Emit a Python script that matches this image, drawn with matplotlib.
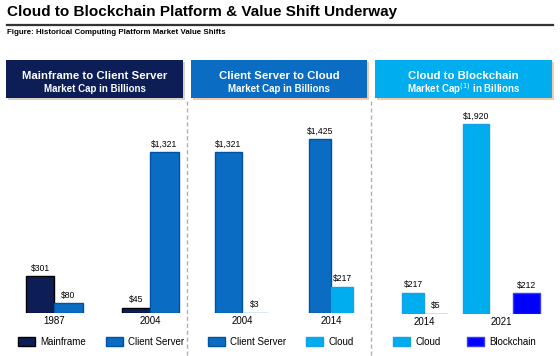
import matplotlib
matplotlib.use("Agg")
import matplotlib.pyplot as plt
from matplotlib.patches import Rectangle
from matplotlib.lines import Line2D

plt.rcParams['font.family'] = ['Liberation Sans', 'DejaVu Sans']

# data
years1 = ['1987', '2004']
mainframe = [301, 45]
client_server1 = [80, 1321]

years2 = ['2004', '2014']
client_server2 = [1321, 1425]
cloud2 = [3, 217]

years3 = ['2014', '2021']
cloud3 = [217, 1920]
blockchain = [5, 212]

headers = [('Mainframe to Client Server', 'Market Cap in Billions'),
           ('Client Server to Cloud', 'Market Cap in Billions'),
           ('Cloud to Blockchain', 'Market Cap$^{(1)}$ in Billions')]

# colours
NAVY = '#0c1e55'
BLUE = '#0a6cc2'
SKY = '#00aeef'
BCHAIN = '#0000ff'

W, H = 560, 356
fig = plt.figure(figsize=(W / 100, H / 100), dpi=100)


def fx(px):
    return px / W


def fy(py):
    return 1 - py / H


# title + rule + subtitle
fig.text(fx(7), fy(12), 'Cloud to Blockchain Platform & Value Shift Underway',
         fontsize=11, fontweight='bold', va='center', ha='left')
fig.add_artist(Line2D([fx(7), fx(553)], [fy(24.5), fy(24.5)], color='#333333', lw=1.6))
fig.text(fx(7), fy(33), 'Figure: Historical Computing Platform Market Value Shifts',
         fontsize=5.7, fontweight='bold', va='center', ha='left')

# header boxes
boxes = [(6, 183, NAVY, '#d8d3c6'), (191, 367, BLUE, '#f3c9ad'), (375, 552, SKY, '#f3c9ad')]
for (x0, x1, col, shadow), (l1, l2) in zip(boxes, headers):
    fig.add_artist(Rectangle((fx(x0 + 2), fy(100)), (x1 - x0) / W, 38 / H,
                             transform=fig.transFigure, facecolor=shadow, edgecolor='none'))
    fig.add_artist(Rectangle((fx(x0), fy(98)), (x1 - x0) / W, 38 / H,
                             transform=fig.transFigure, facecolor=col, edgecolor='none'))
    cx = fx((x0 + x1) / 2)
    fig.text(cx, fy(76), l1, color='white', fontsize=8.2, fontweight='bold', ha='center', va='center')
    fig.text(cx, fy(89), l2, color='white', fontsize=7, fontweight='bold', ha='center', va='center')

# dashed separators
for xs in (187, 371):
    fig.add_artist(Line2D([fx(xs), fx(xs)], [fy(101), fy(356)], color='#b0b0b0',
                          lw=1, linestyle=(0, (3, 2))))


def panel(x0, x1, base, ymax, years, ticks, s1, s2, lefts1, w1, lefts2, w2, styles):
    ax = fig.add_axes([fx(x0), fy(base), (x1 - x0) / W, (base - 110) / H])
    (c1, e1, n1), (c2, e2, n2) = styles
    b1 = ax.bar(lefts1, s1, width=w1, align='edge', color=c1, edgecolor=e1, lw=1.0, label=n1)
    b2 = ax.bar(lefts2, s2, width=w2, align='edge', color=c2, edgecolor=e2, lw=1.0, label=n2)
    for b in (b1, b2):
        ax.bar_label(b, fmt='${:,.0f}', fontsize=6.2, padding=2.5)
    ax.set_xlim(x0, x1)
    ax.set_ylim(0, ymax)
    ax.set_xticks(ticks, years, fontsize=7)
    ax.tick_params(axis='x', length=0, pad=2)
    ax.set_yticks([])
    for sp in ax.spines.values():
        sp.set_visible(False)
    ax.patch.set_alpha(0)
    return ax, b1, b2


ax1, a, b = panel(6, 183, 313, 1664, years1, [54, 150], mainframe, client_server1,
                  [26, 122], 28, [54, 150], 28.5,
                  [(NAVY, '#000000', 'Mainframe'), (BLUE, '#0052a3', 'Client Server')])
ax2, c, d = panel(191, 367, 313, 1664, years2, [242, 331], client_server2, cloud2,
                  [215, 309], [27, 22], [242, 331], [26, 22],
                  [(BLUE, '#0052a3', 'Client Server'), (SKY, '#1a9ee6', 'Cloud')])
ax3, e, f = panel(375, 552, 314, 2060, years3, [424, 501], cloud3, blockchain,
                  [402, 463], [22, 26], [424, 513], [23, 27],
                  [(SKY, '#1a9ee6', 'Cloud'), (BCHAIN, '#3a3aff', 'Blockchain')])

legend_pos = [(ax1, a, b, 18, 2.0), (ax2, c, d, 208, 2.0), (ax3, e, f, 393, 2.7)]
for ax, h1, h2, lx, cs in legend_pos:
    ax.legend(handles=[h1, h2], loc='center left', bbox_to_anchor=(fx(lx), fy(342)),
              bbox_transform=fig.transFigure, ncol=2, frameon=False, fontsize=7,
              handlelength=1.75, handleheight=1.05, handletextpad=0.55,
              columnspacing=cs, borderpad=0, borderaxespad=0)

fig.savefig('out.png', dpi=100, facecolor='white')
